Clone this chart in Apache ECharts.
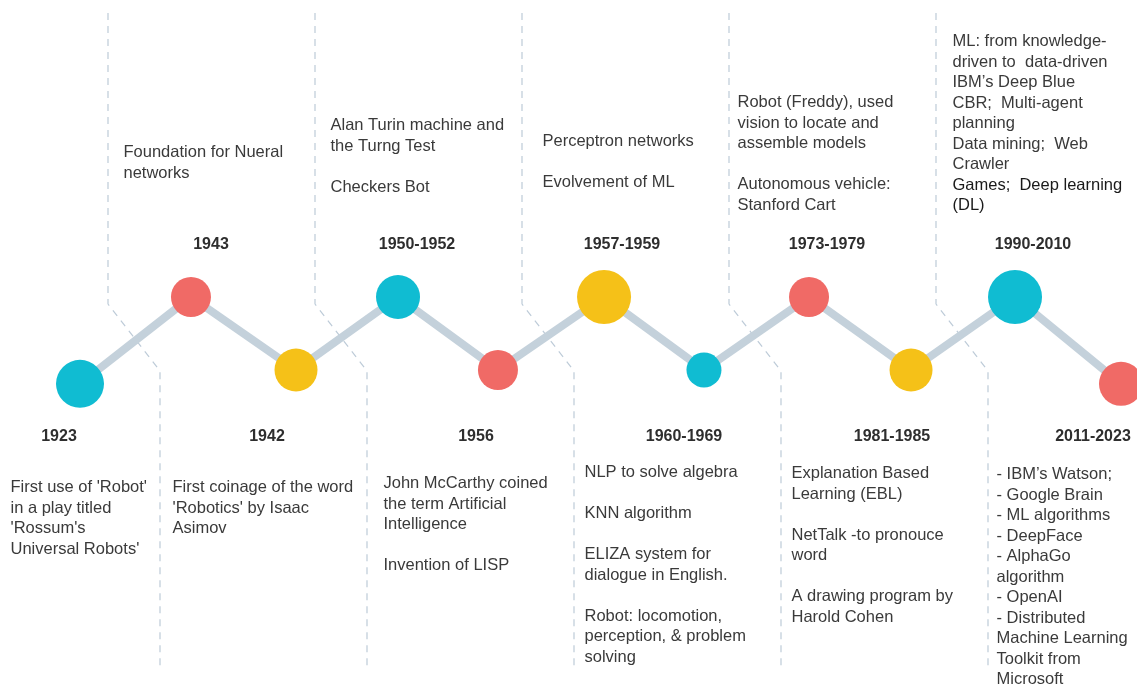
<!DOCTYPE html>
<html>
<head>
<meta charset="utf-8">
<script src="https://cdn.jsdelivr.net/npm/echarts@6/dist/echarts.min.js"></script>
<style>
  html, body { margin: 0; padding: 0; background: #ffffff; }
  #chart { width: 1137px; height: 689px; }
</style>
</head>
<body>
<div id="chart"></div>
<script>
// ---------------- DATA ----------------
const years = ['1923', '1943', '1942', '1950-1952', '1956', '1957-1959', '1960-1969', '1973-1979', '1981-1985', '1990-2010', '2011-2023'];
// position of each milestone along the timeline
const positions = [0, 1.066, 2.075, 3.055, 4.015, 5.034, 5.994, 7.003, 7.983, 8.982, 10];
// zigzag level of each milestone (1 = upper row, 0 = lower row)
const levels = [-0.19, 1, 0, 1, 0, 1, 0, 1, 0, 1, -0.19];
// relative bubble size of each milestone
const bubbleSizes = [48, 40, 43, 44, 40, 54, 35, 40, 43, 54, 44];
const descriptions = [
  "First use of 'Robot'\nin a play titled\n'Rossum's\nUniversal Robots'",
  "Foundation for Nueral\nnetworks",
  "First coinage of the word\n'Robotics' by Isaac\nAsimov",
  "Alan Turin machine and\nthe Turng Test\n\nCheckers Bot",
  "John McCarthy coined\nthe term Artificial\nIntelligence\n\nInvention of LISP",
  "Perceptron networks\n\nEvolvement of ML",
  "NLP to solve algebra\n\nKNN algorithm\n\nELIZA system for\ndialogue in English.\n\nRobot: locomotion,\nperception, & problem\nsolving",
  "Robot (Freddy), used\nvision to locate and\nassemble models\n\nAutonomous vehicle:\nStanford Cart",
  "Explanation Based\nLearning (EBL)\n\nNetTalk -to pronouce\nword\n\nA drawing program by\nHarold Cohen",
  "ML: from knowledge-\ndriven to  data-driven\nIBM\u2019s Deep Blue\nCBR;  Multi-agent\nplanning\nData mining;  Web\nCrawler\n{b|Games;  Deep learning}\n{b|(DL)}",
  "- IBM\u2019s Watson;\n- Google Brain\n- ML algorithms\n- DeepFace\n- AlphaGo\nalgorithm\n- OpenAI\n- Distributed\nMachine Learning\nToolkit from\nMicrosoft"
];

// ---------------- LAYOUT / STYLE ----------------
const nodeColors = ['#10BCD2', '#F06A66', '#F5C118'];
const lineColor = '#C4D1DB';
const dashColor = '#BDCBD8';
const textColor = '#3a3a3a';

// axis mapping constants (grid)
const GRID_LEFT = 80, X_UNIT = 104.1, ZERO_Y = 370, Y_UNIT = 73;
const gx = px => (px - GRID_LEFT) / X_UNIT;
const gy = py => (ZERO_Y - py) / Y_UNIT;

// year label anchor (center, px)
const yearLabelX = [59, 211, 267, 417, 476, 622, 684, 827, 892, 1033, 1093];
const yearLabelY = [437, 245, 437, 245, 437, 245, 437, 245, 437, 245, 437];
// description anchor (left, top, px)
const descLeft = [11, 124, 173, 331, 384, 543, 585, 738, 792, 953, 997];
const descTop = [478, 143, 478, 116, 474, 132, 463, 93, 464, 32, 465];
// dashed separators (top x, bottom x, px)
const sepTopX = [108, 315, 522, 729, 936];
const sepBotX = [160, 367, 574, 781, 988];

const sepSeries = sepTopX.map((tx, i) => ({
  type: 'line',
  silent: true,
  symbol: 'none',
  z: 1,
  clip: false,
  lineStyle: { color: dashColor, width: 1.2, type: [7, 6] },
  data: [[gx(tx), gy(13)], [gx(tx), gy(304)], [gx(sepBotX[i]), gy(371)], [gx(sepBotX[i]), gy(670)]]
}));

const option = {
  animation: false,
  backgroundColor: '#ffffff',
  grid: { left: GRID_LEFT, right: 16, top: 5, bottom: 12.4 },
  xAxis: { type: 'value', min: 0, max: 10, show: false },
  yAxis: { type: 'value', min: -4.2, max: 5, show: false },
  series: [
    ...sepSeries,
    {
      type: 'line',
      silent: true,
      symbol: 'none',
      z: 2,
      clip: false,
      lineStyle: { color: lineColor, width: 8 },
      data: positions.map((x, i) => [x, levels[i]])
    },
    {
      type: 'scatter',
      silent: true,
      z: 3,
      clip: false,
      data: positions.map((x, i) => ({
        value: [x, levels[i]],
        symbolSize: bubbleSizes[i],
        itemStyle: { color: nodeColors[i % 3], opacity: 1 }
      }))
    },
    {
      type: 'scatter',
      silent: true,
      z: 4,
      clip: false,
      symbolSize: 1,
      itemStyle: { color: 'rgba(0,0,0,0)', opacity: 1 },
      label: {
        show: true,
        position: 'inside',
        align: 'center',
        verticalAlign: 'middle',
        fontFamily: 'Liberation Sans, Arial, sans-serif',
        fontWeight: 'bold',
        fontSize: 16,
        color: '#2e2e2e',
        formatter: p => years[p.dataIndex]
      },
      data: years.map((y, i) => [gx(yearLabelX[i]), gy(yearLabelY[i])])
    },
    {
      type: 'scatter',
      silent: true,
      z: 4,
      clip: false,
      symbolSize: 1,
      itemStyle: { color: 'rgba(0,0,0,0)', opacity: 1 },
      label: {
        show: true,
        position: [0, 0],
        align: 'left',
        verticalAlign: 'top',
        fontFamily: 'Liberation Sans, Arial, sans-serif',
        fontSize: 16.5,
        lineHeight: 20.5,
        color: textColor,
        formatter: p => descriptions[p.dataIndex],
        rich: {
          b: { fontFamily: 'Liberation Sans, Arial, sans-serif', fontSize: 16.5, lineHeight: 20.5, color: '#1a1a1a' }
        }
      },
      data: descriptions.map((d, i) => [gx(descLeft[i]), gy(descTop[i])])
    }
  ]
};

const chart = echarts.init(document.getElementById('chart'), null, { renderer: 'canvas' });
chart.setOption(option);
</script>
</body>
</html>
